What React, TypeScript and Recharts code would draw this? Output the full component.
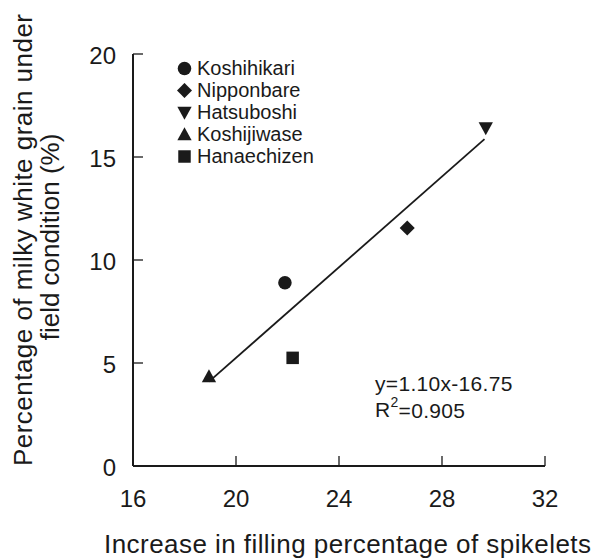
import React from "react";
import {
  ScatterChart,
  Scatter,
  XAxis,
  YAxis,
  ReferenceLine,
  ReferenceDot,
} from "recharts";

const FONT = '"Liberation Sans", Arial, sans-serif';
const INK = "#1a1a1a";

// Data
const koshihikari = [{ x: 21.9, y: 8.9 }];
const nipponbare = [{ x: 26.65, y: 11.55 }];
const hatsuboshi = [{ x: 29.7, y: 16.4 }];
const koshijiwase = [{ x: 18.95, y: 4.35 }];
const hanaechizen = [{ x: 22.2, y: 5.25 }];

const xTicks = [16, 20, 24, 28, 32];
const yTicks = [0, 5, 10, 15, 20];

const slope = 1.1;
const intercept = -16.75;
const fitRange = [18.95, 29.65];
const fitSegment = fitRange.map((x) => ({ x, y: slope * x + intercept }));

const seriesNames = ["Koshihikari", "Nipponbare", "Hatsuboshi", "Koshijiwase", "Hanaechizen"];
const seriesShapes = ["circle", "diamond", "down", "up", "square"];

function drawMarker(kind: string, cx: number, cy: number, s: number) {
  switch (kind) {
    case "circle":
      return <circle cx={cx} cy={cy} r={s * 0.52} fill={INK} />;
    case "diamond":
      return (
        <polygon
          points={`${cx},${cy - s * 0.58} ${cx + s * 0.58},${cy} ${cx},${cy + s * 0.58} ${cx - s * 0.58},${cy}`}
          fill={INK}
        />
      );
    case "down":
      return (
        <polygon
          points={`${cx - s * 0.55},${cy - s * 0.45} ${cx + s * 0.55},${cy - s * 0.45} ${cx},${cy + s * 0.55}`}
          fill={INK}
        />
      );
    case "up":
      return (
        <polygon
          points={`${cx - s * 0.55},${cy + s * 0.45} ${cx + s * 0.55},${cy + s * 0.45} ${cx},${cy - s * 0.55}`}
          fill={INK}
        />
      );
    default:
      return <rect x={cx - s * 0.48} y={cy - s * 0.48} width={s * 0.96} height={s * 0.96} fill={INK} />;
  }
}

const makeShape = (kind: string) => (props: any) => {
  const { cx, cy } = props;
  return drawMarker(kind, cx, cy, 13);
};

const YTick = (props: any) => {
  const { x, y, payload } = props;
  return (
    <g>
      {payload.value !== 0 && (
        <line x1={x} x2={x + 10} y1={y} y2={y} stroke={INK} strokeWidth={1.3} />
      )}
      <text
        x={x - 17}
        y={y + 1}
        textAnchor="end"
        dominantBaseline="central"
        fontSize={24}
        fontFamily={FONT}
        fill={INK}
      >
        {payload.value}
      </text>
    </g>
  );
};

const XTick = (props: any) => {
  const { x, y, payload } = props;
  return (
    <g>
      {payload.value !== 16 && (
        <line x1={x} x2={x} y1={y} y2={y - 10} stroke={INK} strokeWidth={1.3} />
      )}
      <text
        x={x}
        y={y + 32}
        textAnchor="middle"
        dominantBaseline="central"
        fontSize={24}
        fontFamily={FONT}
        fill={INK}
      >
        {payload.value}
      </text>
    </g>
  );
};

const LegendBox = () => (
  <div
    style={{
      position: "absolute",
      left: 177,
      top: 57,
      fontFamily: FONT,
      fontSize: 20,
      color: INK,
      lineHeight: "22px",
    }}
  >
    {seriesNames.map((name, i) => (
      <div key={name} style={{ height: 22, display: "flex", alignItems: "center", whiteSpace: "nowrap" }}>
        <svg width={15} height={15} style={{ marginRight: 5 }}>
          {drawMarker(seriesShapes[i], 7.5, 7.5, 13)}
        </svg>
        <span>{name}</span>
      </div>
    ))}
  </div>
);

export default function App() {
  return (
    <div style={{ position: "absolute", left: 0, top: 0, width: 597, height: 559, background: "#fff" }}>
      <ScatterChart
        width={597}
        height={559}
        margin={{ top: 54, right: 52, bottom: 43, left: 73 }}
      >
        <XAxis
          type="number"
          dataKey="x"
          domain={[16, 32]}
          ticks={xTicks}
          interval={0}
          tickSize={0}
          tickMargin={0}
          tickLine={false}
          tick={<XTick />}
          height={50}
          axisLine={{ stroke: INK, strokeWidth: 2 }}
          allowDataOverflow
          label={{
            content: () => (
              <text
                x={104}
                y={553}
                textLength={487}
                lengthAdjust="spacing"
                fontSize={26}
                fontFamily={FONT}
                fill={INK}
              >
                Increase in filling percentage of spikelets
              </text>
            ),
          }}
        />
        <YAxis
          type="number"
          dataKey="y"
          domain={[0, 20]}
          ticks={yTicks}
          interval={0}
          tickSize={0}
          tickMargin={0}
          tickLine={false}
          tick={<YTick />}
          width={60}
          axisLine={{ stroke: INK, strokeWidth: 2 }}
          allowDataOverflow
          label={{
            content: () => (
              <g fontSize={26} fontFamily={FONT} fill={INK}>
                <text
                  x={32}
                  y={240}
                  transform="rotate(-90, 32, 240)"
                  textAnchor="middle"
                  textLength={452}
                  lengthAdjust="spacing"
                >
                  Percentage of milky white grain under
                </text>
                <text
                  x={59}
                  y={237}
                  transform="rotate(-90, 59, 237)"
                  textAnchor="middle"
                >
                  field condition (%)
                </text>
              </g>
            ),
          }}
        />
        <ReferenceLine
          segment={fitSegment}
          stroke={INK}
          strokeWidth={1.8}
          ifOverflow="visible"
        />
        <Scatter name="Koshihikari" data={koshihikari} shape={makeShape("circle")} isAnimationActive={false} />
        <Scatter name="Nipponbare" data={nipponbare} shape={makeShape("diamond")} isAnimationActive={false} />
        <Scatter name="Hatsuboshi" data={hatsuboshi} shape={makeShape("down")} isAnimationActive={false} />
        <Scatter name="Koshijiwase" data={koshijiwase} shape={makeShape("up")} isAnimationActive={false} />
        <Scatter name="Hanaechizen" data={hanaechizen} shape={makeShape("square")} isAnimationActive={false} />
        <ReferenceDot
          x={25.4}
          y={4.0}
          r={0}
          ifOverflow="visible"
          label={{
            content: (p: any) => {
              const vb = p.viewBox;
              const x0 = vb.x + (vb.width || 0) / 2;
              const y0 = vb.y + (vb.height || 0) / 2;
              return (
                <g fontSize={21} fontFamily={FONT} fill={INK}>
                  <text x={x0} y={y0} dominantBaseline="central" letterSpacing={0.3}>y=1.10x-16.75</text>
                  <text x={x0} y={y0 + 26} dominantBaseline="central" letterSpacing={0.3}>
                    R<tspan dy={-8} fontSize={14}>2</tspan>
                    <tspan dy={8}>=0.905</tspan>
                  </text>
                </g>
              );
            },
          }}
        />
      </ScatterChart>
      <LegendBox />
    </div>
  );
}
